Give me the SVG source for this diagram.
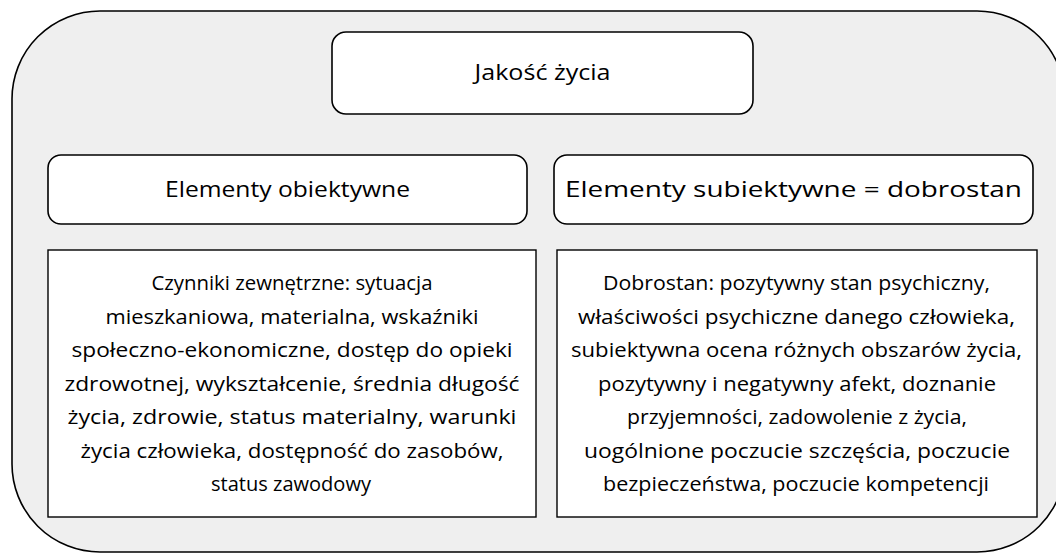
<svg xmlns="http://www.w3.org/2000/svg" width="1056" height="555" viewBox="0 0 1056 555">
<style>
.box{fill:#ffffff;stroke:#000;stroke-width:1.6}
.t{font-family:"Open Sans","Noto Sans","Liberation Sans",sans-serif;fill:#000;text-anchor:middle}
.h{font-size:21px}
.b{font-size:19.5px}
</style>
<rect x="0" y="0" width="1056" height="555" fill="#ffffff"/>
<g id="outer">
<rect x="12" y="11" width="1053" height="541" rx="88" ry="88" fill="#efefef" stroke="#000" stroke-width="1.6"/>
</g>
<g id="connectors"></g>
<g id="jakosc">
<rect class="box" x="332" y="32" width="421" height="82" rx="14"/>
<text class="t h" x="542.5" y="80" textLength="136" lengthAdjust="spacingAndGlyphs">Jakość życia</text>
</g>
<g id="obiektywne">
<rect class="box" x="48" y="155" width="479" height="69" rx="13"/>
<text class="t h" x="287.5" y="197" textLength="245" lengthAdjust="spacingAndGlyphs">Elementy obiektywne</text>
</g>
<g id="subiektywne">
<rect class="box" x="554" y="155" width="479" height="69" rx="13"/>
<text class="t h" x="793.5" y="197" textLength="457" lengthAdjust="spacingAndGlyphs">Elementy subiektywne = dobrostan</text>
</g>
<g id="czynniki">
<rect x="48" y="250" width="488" height="267" fill="#fff" stroke="#000" stroke-width="1.4"/>
<text class="t b" x="292" y="290" textLength="281" lengthAdjust="spacingAndGlyphs">Czynniki zewnętrzne: sytuacja</text>
<text class="t b" x="292" y="323.5" textLength="373" lengthAdjust="spacingAndGlyphs">mieszkaniowa, materialna, wskaźniki</text>
<text class="t b" x="292" y="357" textLength="441" lengthAdjust="spacingAndGlyphs">społeczno-ekonomiczne, dostęp do opieki</text>
<text class="t b" x="292" y="390.5" textLength="455" lengthAdjust="spacingAndGlyphs">zdrowotnej, wykształcenie, średnia długość</text>
<text class="t b" x="292" y="424" textLength="449" lengthAdjust="spacingAndGlyphs">życia, zdrowie, status materialny, warunki</text>
<text class="t b" x="292" y="457.5" textLength="423" lengthAdjust="spacingAndGlyphs">życia człowieka, dostępność do zasobów,</text>
<text class="t b" x="291" y="491" textLength="160" lengthAdjust="spacingAndGlyphs">status zawodowy</text>
</g>
<g id="dobrostan">
<rect x="557" y="250" width="480" height="267" fill="#fff" stroke="#000" stroke-width="1.4"/>
<text class="t b" x="796.5" y="290" textLength="387" lengthAdjust="spacingAndGlyphs">Dobrostan: pozytywny stan psychiczny,</text>
<text class="t b" x="796.5" y="323.5" textLength="437" lengthAdjust="spacingAndGlyphs">właściwości psychiczne danego człowieka,</text>
<text class="t b" x="796.5" y="357" textLength="451" lengthAdjust="spacingAndGlyphs">subiektywna ocena różnych obszarów życia,</text>
<text class="t b" x="797" y="390.5" textLength="398" lengthAdjust="spacingAndGlyphs">pozytywny i negatywny afekt, doznanie</text>
<text class="t b" x="797" y="424" textLength="340" lengthAdjust="spacingAndGlyphs">przyjemności, zadowolenie z życia,</text>
<text class="t b" x="797" y="457.5" textLength="426" lengthAdjust="spacingAndGlyphs">uogólnione poczucie szczęścia, poczucie</text>
<text class="t b" x="796" y="491" textLength="386" lengthAdjust="spacingAndGlyphs">bezpieczeństwa, poczucie kompetencji</text>
</g>
</svg>
